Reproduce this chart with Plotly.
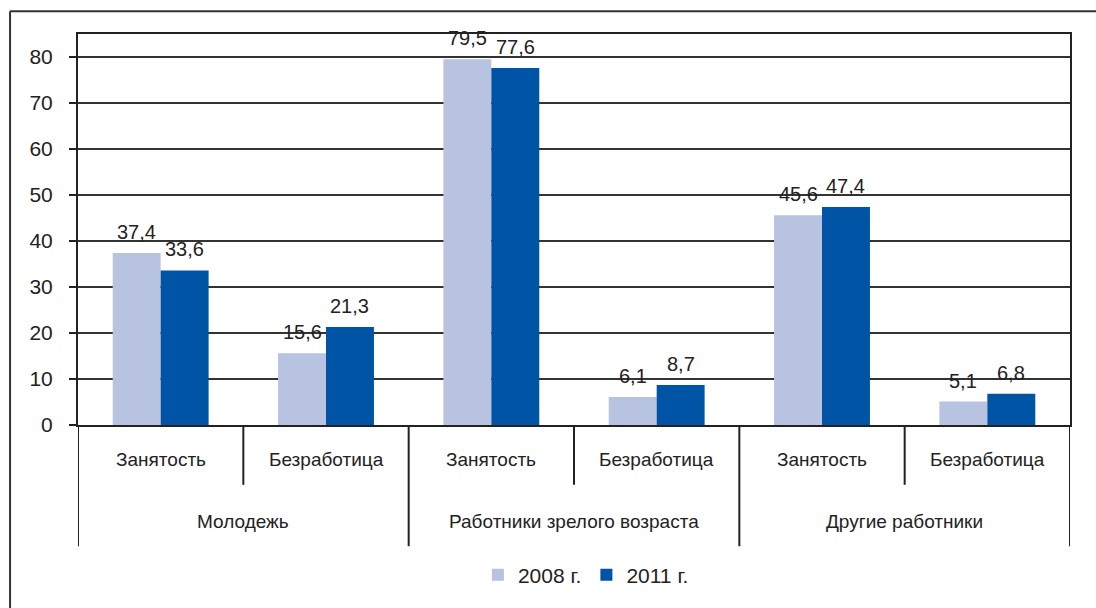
import plotly.graph_objects as go

groups = ["Молодежь", "Работники зрелого возраста", "Другие работники"]
indicators = ["Занятость", "Безработица"]
series_names = ["2008 г.", "2011 г."]
values_2008 = [37.4, 15.6, 79.5, 6.1, 45.6, 5.1]
values_2011 = [33.6, 21.3, 77.6, 8.7, 47.4, 6.8]
y_ticks = [0, 10, 20, 30, 40, 50, 60, 70, 80]

colors = ["#B8C3E1", "#0054A5"]
FONT = "Liberation Sans Narrow, Arial Narrow, Liberation Sans, Arial, sans-serif"
TXT = "#222222"

n_cat = len(groups) * len(indicators)
xpos = list(range(n_cat))
inner_labels = [indicators[i % len(indicators)] for i in range(n_cat)]

fig = go.Figure()
for name, vals, col in zip(series_names, [values_2008, values_2011], colors):
    fig.add_trace(go.Bar(
        x=xpos, y=vals, name=name,
        marker=dict(color=col, line=dict(width=0)),
    ))

# value labels above bars
bar_w = 0.29
for k, vals in enumerate([values_2008, values_2011]):
    off = -bar_w / 2 if k == 0 else bar_w / 2
    for i, v in enumerate(vals):
        fig.add_annotation(
            x=i + off, y=v, xref="x", yref="y",
            text=f"{v:.1f}".replace(".", ","),
            showarrow=False, yanchor="bottom", yshift=8,
            font=dict(family=FONT, size=20, color=TXT),
        )

# inner category labels
for i, lab in enumerate(inner_labels):
    fig.add_annotation(
        x=i, y=-0.089, xref="x", yref="paper", text=lab, showarrow=False,
        yanchor="middle", font=dict(family=FONT, size=19, color=TXT),
    )
# outer group labels
for g, lab in enumerate(groups):
    fig.add_annotation(
        x=g * 2 + 0.5, y=-0.247, xref="x", yref="paper", text=lab, showarrow=False,
        yanchor="middle", font=dict(family=FONT, size=19, color=TXT),
    )

shapes = []
# inner dividers
for g in range(len(groups)):
    shapes.append(dict(type="line", xref="x", yref="paper", x0=g * 2 + 0.5, x1=g * 2 + 0.5,
                       y0=0, y1=-0.153, line=dict(color="#222222", width=2)))
# outer dividers
for g in range(len(groups) + 1):
    shapes.append(dict(type="line", xref="x", yref="paper", x0=g * 2 - 0.5, x1=g * 2 - 0.5,
                       y0=0, y1=-0.310, line=dict(color="#222222", width=2)))
# outer frame (top and left only)
shapes.append(dict(type="line", xref="paper", yref="paper", x0=-0.0685, x1=1.03,
                   y0=1.0585, y1=1.0585, line=dict(color="#333333", width=2)))
shapes.append(dict(type="line", xref="paper", yref="paper", x0=-0.0685, x1=-0.0685,
                   y0=1.0585, y1=-0.47, line=dict(color="#333333", width=2)))

fig.update_layout(
    width=1096, height=608,
    margin=dict(l=78, r=26, t=34, b=181),
    paper_bgcolor="white", plot_bgcolor="white",
    barmode="group", bargap=0.42, bargroupgap=0,
    font=dict(family=FONT, size=20, color=TXT),
    shapes=shapes,
    showlegend=True,
    legend=dict(orientation="h", x=0.512, xanchor="center", y=-0.384, yanchor="middle",
                font=dict(family=FONT, size=21, color=TXT), itemwidth=30,
                traceorder="normal"),
    xaxis=dict(range=[-0.5, n_cat - 0.5], showticklabels=False, ticks="",
               showgrid=False, zeroline=False, showline=True, linecolor="#222222",
               linewidth=2, mirror=True, fixedrange=True),
    yaxis=dict(range=[0, 85], tickvals=y_ticks, ticks="outside", ticklen=7,
               tickcolor="#222222", tickwidth=2, ticklabelstandoff=12,
               showgrid=True, gridcolor="#333333", gridwidth=1.5,
               zeroline=False, showline=True, linecolor="#222222", linewidth=2,
               mirror=True, tickfont=dict(family=FONT, size=21, color=TXT)),
)

fig.write_html("out.html", config={"displayModeBar": False},
               post_script="document.body.style.margin='0';document.body.style.overflow='hidden';")
